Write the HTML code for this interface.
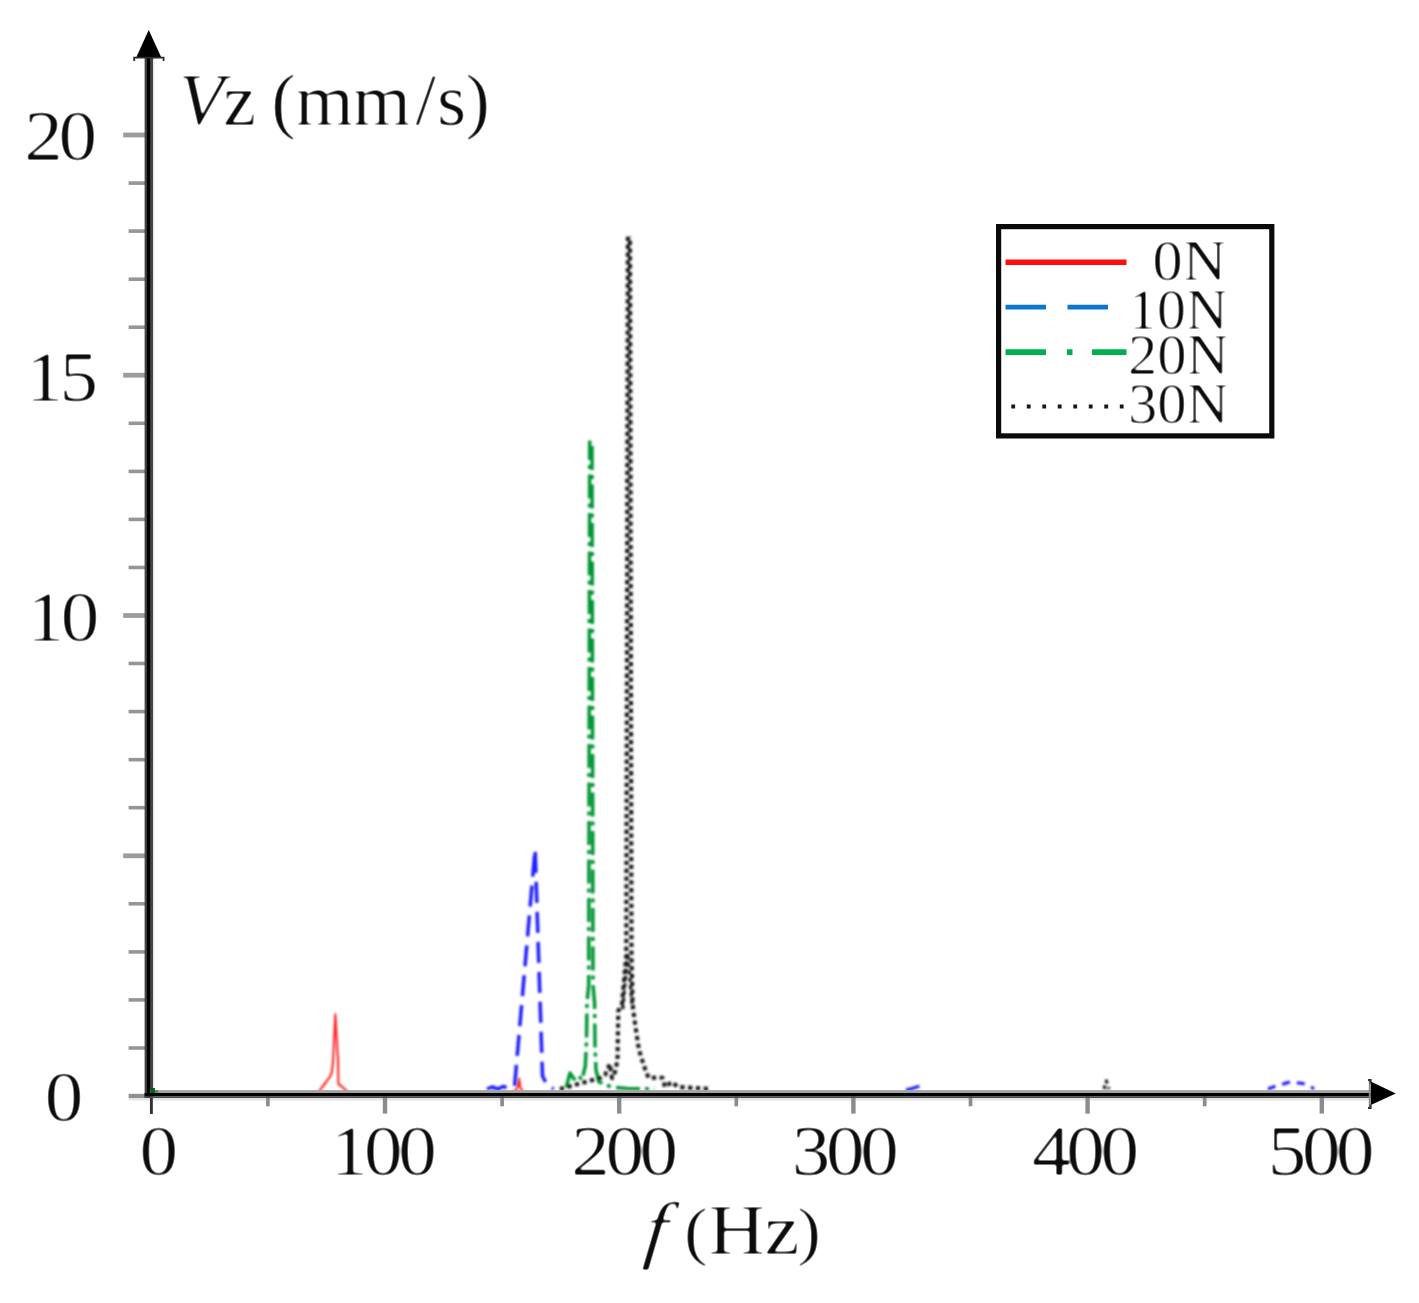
<!DOCTYPE html>
<html lang="en">
<head>
<meta charset="utf-8">
<title>Vz spectrum</title>
<style>
html,body{margin:0;padding:0;background:#fff;}
body{width:1419px;height:1303px;overflow:hidden;}
svg{display:block;}
text{font-family:"Liberation Serif","DejaVu Serif",serif;fill:#0d0d0d;}
.it{font-style:italic;}
</style>
</head>
<body>
<svg width="1419" height="1303" viewBox="0 0 1419 1303">
<defs><filter id="soft" x="0" y="0" width="1419" height="1303" filterUnits="userSpaceOnUse"><feGaussianBlur stdDeviation="1"/></filter><filter id="softtext" x="0" y="0" width="1419" height="1303" filterUnits="userSpaceOnUse"><feGaussianBlur stdDeviation="1"/><feComponentTransfer><feFuncA type="linear" slope="2.0" intercept="-0.78"/></feComponentTransfer></filter></defs>
<rect x="0" y="0" width="1419" height="1303" fill="#ffffff"/>

<!-- y-axis ticks -->
<g id="yticks" stroke="#969696" fill="none">
<line x1="128.6" y1="1095.9" x2="146" y2="1095.9" stroke-width="4.2" stroke="#909090"/>
<line x1="128.6" y1="1099.2" x2="1369" y2="1099.2" stroke-width="2.6" stroke="#e4e4e4"/>
<line x1="128.6" y1="1048.0" x2="146" y2="1048.0" stroke-width="3.6"/>
<line x1="128.6" y1="999.9" x2="146" y2="999.9" stroke-width="3.6"/>
<line x1="128.6" y1="951.9" x2="146" y2="951.9" stroke-width="3.6"/>
<line x1="128.6" y1="903.8" x2="146" y2="903.8" stroke-width="3.6"/>
<line x1="123.2" y1="855.8" x2="146" y2="855.8" stroke-width="4.8" stroke="#9c9c9c"/>
<line x1="128.6" y1="807.7" x2="146" y2="807.7" stroke-width="3.6"/>
<line x1="128.6" y1="759.7" x2="146" y2="759.7" stroke-width="3.6"/>
<line x1="128.6" y1="711.6" x2="146" y2="711.6" stroke-width="3.6"/>
<line x1="128.6" y1="663.5" x2="146" y2="663.5" stroke-width="3.6"/>
<line x1="123.2" y1="615.5" x2="146" y2="615.5" stroke-width="4.8" stroke="#9c9c9c"/>
<line x1="128.6" y1="567.5" x2="146" y2="567.5" stroke-width="3.6"/>
<line x1="128.6" y1="519.4" x2="146" y2="519.4" stroke-width="3.6"/>
<line x1="128.6" y1="471.4" x2="146" y2="471.4" stroke-width="3.6"/>
<line x1="128.6" y1="423.3" x2="146" y2="423.3" stroke-width="3.6"/>
<line x1="123.2" y1="375.2" x2="146" y2="375.2" stroke-width="4.8" stroke="#9c9c9c"/>
<line x1="128.6" y1="327.2" x2="146" y2="327.2" stroke-width="3.6"/>
<line x1="128.6" y1="279.2" x2="146" y2="279.2" stroke-width="3.6"/>
<line x1="128.6" y1="231.1" x2="146" y2="231.1" stroke-width="3.6"/>
<line x1="128.6" y1="183.1" x2="146" y2="183.1" stroke-width="3.6"/>
<line x1="123.2" y1="135.0" x2="146" y2="135.0" stroke-width="4.8" stroke="#9c9c9c"/>
</g>
<!-- x-axis ticks -->
<g id="xticks" stroke="#8c8c8c" fill="none">
<line x1="151.4" y1="1096" x2="151.4" y2="1114" stroke-width="2.9" stroke="#333"/>
<line x1="267.9" y1="1096" x2="267.9" y2="1106.3" stroke-width="3.7"/>
<line x1="385.0" y1="1096" x2="385.0" y2="1113.6" stroke-width="4.4"/>
<line x1="502.1" y1="1096" x2="502.1" y2="1106.3" stroke-width="3.7"/>
<line x1="619.2" y1="1096" x2="619.2" y2="1113.6" stroke-width="4.4"/>
<line x1="736.3" y1="1096" x2="736.3" y2="1106.3" stroke-width="3.7"/>
<line x1="853.4" y1="1096" x2="853.4" y2="1113.6" stroke-width="4.4"/>
<line x1="970.5" y1="1096" x2="970.5" y2="1106.3" stroke-width="3.7"/>
<line x1="1087.6" y1="1096" x2="1087.6" y2="1113.6" stroke-width="4.4"/>
<line x1="1204.7" y1="1096" x2="1204.7" y2="1106.3" stroke-width="3.7"/>
<line x1="1321.8" y1="1096" x2="1321.8" y2="1113.6" stroke-width="4.4"/>
</g>

<!-- data curves -->
<g id="curves" fill="none" stroke-linejoin="round">
<!-- 0N red solid -->
<path d="M319 1091.5 L321.5 1088 L326.9 1081 L330 1076.7 L331.8 1072 L333 1062 L335.3 1014.2 L338 1060 L338.4 1084 L340.7 1085.5 L343.7 1088.3 L347.6 1091.5 M514 1091.5 L517.5 1088 L519 1078.5 L520.5 1088 L523 1091.5" stroke="#ff2222" stroke-width="2.1" filter="url(#soft)"/>
<g filter="url(#soft)">
<!-- 10N blue dashed -->
<path d="M487 1089 L492 1087 L498 1089 L503 1086.5 L510 1088.5 L514.6 1086 L535.1 849.3 L542.5 1076 L547 1085 L553.6 1089" stroke="#1c1cff" stroke-width="3.5" stroke-dasharray="21 9"/>
<path d="M906 1090 L912 1088.5 L920 1086 L923 1089" stroke="#1c1cff" stroke-width="3" stroke-dasharray="14 6"/>
<path d="M1268 1089 L1276 1086 L1290 1082 L1303 1083.5 L1310 1086 L1314 1089" stroke="#1c1cff" stroke-width="3" stroke-dasharray="8 7"/>
<!-- 20N green dash-dot: rising and falling flanks -->
<path d="M589.7 440.6 L588.7 985 L587 1003 L586.5 1040 L585.3 1066 L582 1080 L578 1075 L574 1079 L570 1073 L566 1088 L560 1089" stroke="#009636" stroke-width="3.5" stroke-dasharray="24 5 4 5.5" stroke-dashoffset="4.5"/>
<path d="M592 440.6 L593 985 L594.6 1003 L595 1045 L596 1070 L599 1082 L605 1084 L611 1087 L627 1088.5 L655 1089" stroke="#009636" stroke-width="3.5" stroke-dasharray="24 5 4 5.5" stroke-dashoffset="33"/>
<!-- 30N black dotted: rising and falling flanks -->
<path d="M627.9 236.8 L626.3 955 L622 1004 L618.3 1011 L617.5 1060 L615 1072 L612 1078 L609.8 1064 L605 1075 L600 1078 L592.7 1080 L560 1089" stroke="#161616" stroke-width="4.1" stroke-dasharray="4.3 3.5"/>
<path d="M630 236.8 L631.5 955 L632.6 1004 L634.5 1020 L639 1050 L644 1066 L648.5 1077.7 L662.5 1077.7 L665 1087 L671.8 1082 L678 1087 L710 1089" stroke="#161616" stroke-width="4.1" stroke-dasharray="4.3 3.5" stroke-dashoffset="3.9"/>
<path d="M622.7 1009 L627.6 953 L632.5 1009" stroke="#161616" stroke-width="3.4" stroke-dasharray="3.6 3.8"/>
<path d="M1104 1089 L1106.4 1081 L1109 1089" stroke="#161616" stroke-width="3.2" stroke-dasharray="3.6 3.8"/>
</g>

</g>

<!-- axes -->
<g id="axes">
<rect x="144.6" y="57" width="8.6" height="1041" fill="#454545"/>
<rect x="146.9" y="57" width="3.3" height="1041" fill="#000"/>
<rect x="153.2" y="60" width="1.3" height="1030" fill="#ececec"/>
<rect x="150" y="1090.1" width="1221" height="3" fill="#a2a2a2"/>
<rect x="144.6" y="1093" width="1226.4" height="3.4" fill="#000"/>
<rect x="144.6" y="1096.3" width="1226.4" height="1.7" fill="#4a4a4a"/>
<polygon points="148.7,30 161.2,57.2 136.3,57.2" fill="#000"/>
<path d="M134.2 61 V57.6 H163.6 V61" fill="none" stroke="#2a2a2a" stroke-width="1.8"/>
<polygon points="1395.8,1093.6 1370.8,1081.6 1370.8,1105" fill="#000"/>
<rect x="150.3" y="1088" width="4.6" height="5" fill="#00601a"/>
<rect x="154.9" y="1090.1" width="3.2" height="2.9" fill="#4f8f5a"/>
<path d="M1368.2 1080 H1369.8 V1108 H1368.2" fill="none" stroke="#8a8a8a" stroke-width="2"/>
<path d="M1368 1080 h2.6 v3.4 M1368 1108 h2.6 v-3.4" fill="none" stroke="#333" stroke-width="2"/>
</g>

<!-- axis labels and tick labels -->
<g id="labels" filter="url(#softtext)">
<g font-size="72" letter-spacing="-4.04">
<text transform="translate(24.3,160) scale(1.07,1)" x="0" y="0">20</text>
<text transform="translate(25.3,401.3) scale(1.07,1)" x="0" y="0">15</text>
<text transform="translate(26.6,640.5) scale(1.07,1)" x="0" y="0">10</text>
<text transform="translate(44.7,1121) scale(1.07,1)" x="0" y="0">0</text>
<text transform="translate(139.4,1175) scale(1.07,1)" x="0" y="0">0</text>
<text transform="translate(329.9,1175) scale(1.07,1)" x="0" y="0">100</text>
<text transform="translate(571.2,1175) scale(1.07,1)" x="0" y="0">200</text>
<text transform="translate(791.8,1175) scale(1.07,1)" x="0" y="0">300</text>
<text transform="translate(1032.0,1175) scale(1.07,1)" x="0" y="0">400</text>
<text transform="translate(1267.7,1175) scale(1.07,1)" x="0" y="0">500</text>
</g>
<g font-size="75">
<text y="125.3"><tspan class="it" x="178.4">V</tspan><tspan x="223">z</tspan><tspan x="246"> </tspan><tspan x="271.3">(</tspan><tspan x="295.2">m</tspan><tspan x="352.6">m</tspan><tspan x="415.3">/</tspan><tspan x="436.9">s</tspan><tspan x="465">)</tspan></text>
</g>
<g font-size="72.5">
<text class="it" transform="translate(642.8,1253.9) skewX(-6) scale(1.12,1.03)" x="0" y="0">f</text>
<text transform="scale(1.1,1)" y="1253.9"><tspan x="606"> </tspan><tspan x="621.9" y="1252.6" font-size="66">(</tspan><tspan x="643.6" y="1253.9">H</tspan><tspan x="694.7">z</tspan><tspan x="724.4" y="1252.6" font-size="66">)</tspan></text>
</g>

</g>

<!-- legend -->
<g id="legend">
<rect x="998.6" y="226.6" width="273.2" height="209.3" fill="#fff" stroke="#0a0a0a" stroke-width="5.2"/>
<line x1="1005.5" y1="262.3" x2="1126.5" y2="262.3" stroke="#ff0d0d" stroke-width="5.4"/>
<line x1="1005.5" y1="307.1" x2="1108" y2="307.1" stroke="#0a78d2" stroke-width="4.8" stroke-dasharray="40.5 21.5"/>
<line x1="1005.5" y1="352.2" x2="1126.5" y2="352.2" stroke="#00b050" stroke-width="5.8" stroke-dasharray="40.5 21 5.5 19.5"/>
<line x1="1011.3" y1="406.5" x2="1126.5" y2="406.5" stroke="#161616" stroke-width="3.8" stroke-dasharray="3.8 11.7"/>
<g font-size="56.5" filter="url(#softtext)">
<text x="1152.6" y="280.3" textLength="73.8" lengthAdjust="spacingAndGlyphs">0N</text>
<text x="1128.2" y="329.4" textLength="99.5" lengthAdjust="spacingAndGlyphs">10N</text>
<text x="1128" y="374.4" textLength="100.8" lengthAdjust="spacingAndGlyphs">20N</text>
<text x="1128" y="422.8" textLength="100.8" lengthAdjust="spacingAndGlyphs">30N</text>
</g>

</g>
</svg>
</body>
</html>
